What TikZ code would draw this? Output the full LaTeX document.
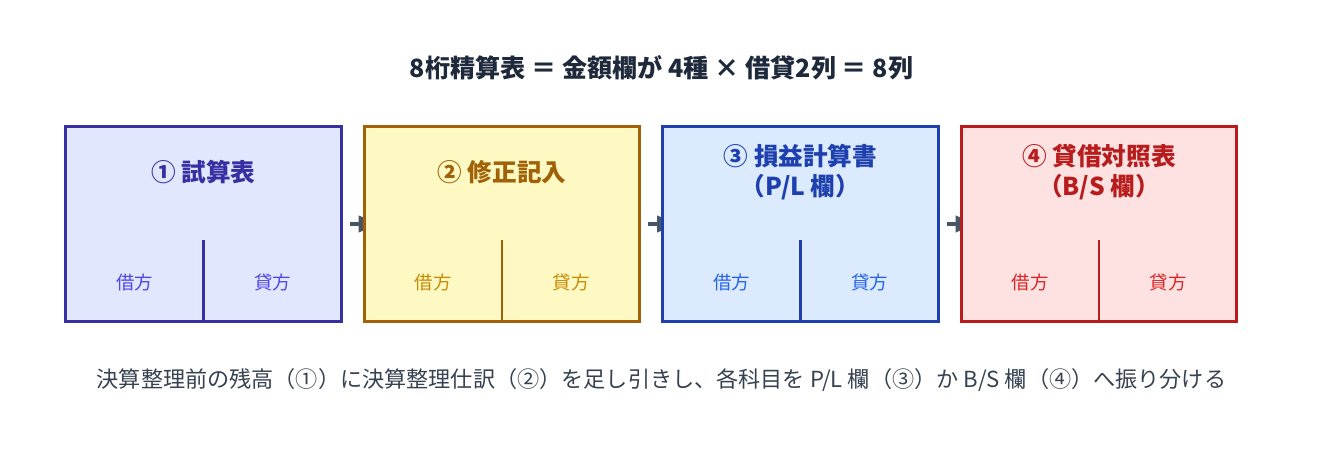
\documentclass[tikz,border=0pt]{standalone}
\usepackage{fontspec}
\setmainfont{Noto Sans CJK JP}
\usetikzlibrary{arrows.meta, backgrounds}

\definecolor{inkA}{HTML}{3730A3}
\definecolor{fillA}{HTML}{E0E7FF}
\definecolor{softA}{HTML}{4F46E5}
\definecolor{inkB}{HTML}{A16207}
\definecolor{fillB}{HTML}{FEF9C3}
\definecolor{softB}{HTML}{CA8A04}
\definecolor{inkC}{HTML}{1E40AF}
\definecolor{fillC}{HTML}{DBEAFE}
\definecolor{softC}{HTML}{2563EB}
\definecolor{inkD}{HTML}{B91C1C}
\definecolor{fillD}{HTML}{FEE2E2}
\definecolor{softD}{HTML}{DC2626}
\definecolor{headink}{HTML}{1E293B}
\definecolor{noteink}{HTML}{374151}
\definecolor{connink}{HTML}{475569}

\tikzset{
    colbox/.style = {draw, line width = 1.7pt, minimum width = 5.52cm, minimum height = 3.9cm, inner sep = 0pt},
    coltitle/.style = {align = center, font = \fontsize{14}{17}\selectfont\bfseries},
    colhead/.style = {font = \fontsize{10.5}{12}\selectfont},
    conn/.style = {connink, line width = 2.3pt, -{Triangle[length = 0.4cm, width = 0.32cm]}}
}

\begin{document}
\begin{tikzpicture}[x = 0.02cm, y = -0.02cm]
    \useasboundingbox (0, 0) rectangle (1323, 460);
    \node (head) at (661.5, 68) [text = headink, font = \fontsize{14.3}{17}\selectfont\bfseries] {8桁精算表 ＝ 金額欄が 4種 × 借貸2列 ＝ 8列};
    \foreach \i/\x/\ink/\soft/\fil/\ttl in {1/203.5/inkA/softA/fillA/{① 試算表}, 2/502/inkB/softB/fillB/{② 修正記入}, 3/800.5/inkC/softC/fillC/{③ 損益計算書\\（P/L 欄）}, 4/1099/inkD/softD/fillD/{④ 貸借対照表\\（B/S 欄）}}
    {
        \node (b\i) at (\x, 224) [colbox, draw = \ink, fill = \fil] {};
        \node (t\i) at (\x, 172) [coltitle, text = \ink] {\ttl};
        \draw[\ink, line width = 1.2pt] (\x, 240) -- (\x, 321.5);
        \node (dr\i) at (\x - 69, 282) [colhead, text = \soft] {借方};
        \node (cr\i) at (\x + 69, 282) [colhead, text = \soft] {貸方};
    }
    \begin{scope}[on background layer]
        \foreach \a/\b in {b1/b2, b2/b3, b3/b4}
        \draw[conn] ([xshift = 0.14cm]\a.east) -- ([xshift = 0.32cm]\b.west);
    \end{scope}
    \node (note) at (661.5, 380) [text = noteink, font = \fontsize{12.6}{16}\selectfont] {決算整理前の残高（①）に決算整理仕訳（②）を足し引きし、各科目を P/L 欄（③）か B/S 欄（④）へ振り分ける};
\end{tikzpicture}
\end{document}
